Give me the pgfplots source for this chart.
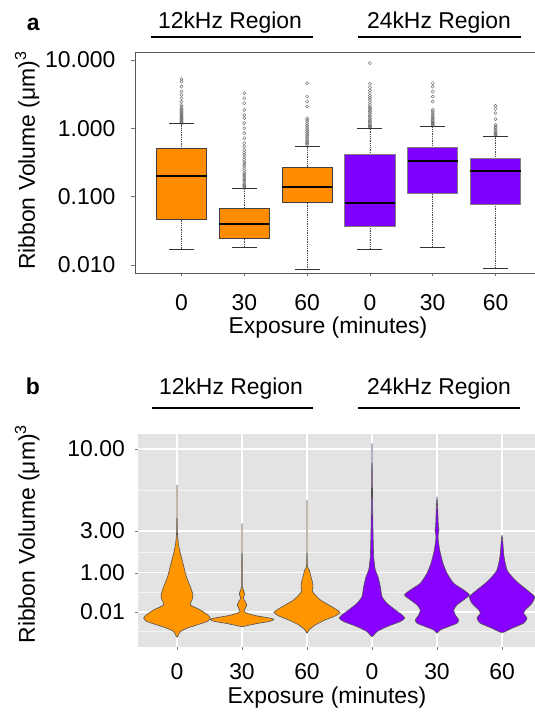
\documentclass[border=0pt]{standalone}
\usepackage{fontspec}
\setmainfont{Liberation Sans}
\usepackage{pgfplots}
\usepackage{pgfplotstable}
\pgfplotsset{compat=1.18}
\usepgfplotslibrary{statistics}
\usetikzlibrary{plotmarks}

\definecolor{boxorange}{HTML}{FF8C00}
\definecolor{boxpurple}{HTML}{8000FF}
\definecolor{vorange}{HTML}{FF9600}
\definecolor{vpurple}{HTML}{8800FF}
\definecolor{panelgrey}{HTML}{E3E3E3}

% violin outlines (closed): d = offset from the category, u = position on the y axis
\pgfplotstableread{
d u
0.000 2.534
0.005 1.748
0.021 1.516
0.051 1.341
0.092 1.167
0.144 0.933
0.205 0.759
0.246 0.614
0.231 0.527
0.205 0.440
0.359 0.352
0.472 0.265
0.513 0.207
0.462 0.149
0.308 0.091
0.154 0.033
0.051 -0.026
0.000 -0.124
-0.051 -0.026
-0.154 0.033
-0.308 0.091
-0.462 0.149
-0.513 0.207
-0.472 0.265
-0.359 0.352
-0.205 0.440
-0.231 0.527
-0.246 0.614
-0.205 0.759
-0.144 0.933
-0.092 1.167
-0.051 1.341
-0.021 1.516
-0.005 1.748
0.000 2.534
}\vA
\pgfplotstableread{
d u
0.000 1.865
0.005 0.993
0.005 0.759
0.021 0.701
0.041 0.631
0.021 0.556
0.051 0.498
0.072 0.440
0.051 0.382
0.031 0.323
0.103 0.283
0.231 0.248
0.385 0.219
0.487 0.190
0.436 0.155
0.256 0.120
0.103 0.085
0.000 0.061
-0.103 0.085
-0.256 0.120
-0.436 0.155
-0.487 0.190
-0.385 0.219
-0.231 0.248
-0.103 0.283
-0.031 0.323
-0.051 0.382
-0.072 0.440
-0.051 0.498
-0.021 0.556
-0.041 0.631
-0.021 0.701
-0.005 0.759
-0.005 0.993
0.000 1.865
}\vB
\pgfplotstableread{
d u
0.000 2.272
0.005 1.167
0.036 1.050
0.062 0.933
0.087 0.818
0.092 0.731
0.080 0.690
0.103 0.643
0.205 0.527
0.333 0.440
0.462 0.352
0.508 0.306
0.436 0.248
0.282 0.178
0.128 0.091
0.031 0.004
0.000 -0.054
-0.031 0.004
-0.128 0.091
-0.282 0.178
-0.436 0.248
-0.508 0.306
-0.462 0.352
-0.333 0.440
-0.205 0.527
-0.103 0.643
-0.080 0.690
-0.092 0.731
-0.087 0.818
-0.062 0.933
-0.036 1.050
-0.005 1.167
0.000 2.272
}\vC
\pgfplotstableread{
d u
0.000 3.261
0.010 2.155
0.015 1.748
0.026 1.283
0.051 1.050
0.092 0.933
0.128 0.759
0.154 0.584
0.231 0.469
0.359 0.352
0.462 0.265
0.503 0.207
0.436 0.149
0.231 0.061
0.077 -0.026
0.000 -0.114
-0.077 -0.026
-0.231 0.061
-0.436 0.149
-0.503 0.207
-0.462 0.265
-0.359 0.352
-0.231 0.469
-0.154 0.584
-0.128 0.759
-0.092 0.933
-0.051 1.050
-0.026 1.283
-0.015 1.748
-0.010 2.155
0.000 3.261
}\vD
\pgfplotstableread{
d u
0.000 2.330
0.010 2.155
0.021 1.806
0.031 1.748
0.015 1.632
0.041 1.399
0.092 1.167
0.154 0.993
0.256 0.818
0.410 0.701
0.500 0.614
0.410 0.527
0.308 0.440
0.256 0.352
0.282 0.265
0.333 0.178
0.308 0.120
0.179 0.061
0.051 0.004
0.000 -0.054
-0.051 0.004
-0.179 0.061
-0.308 0.120
-0.333 0.178
-0.282 0.265
-0.256 0.352
-0.308 0.440
-0.410 0.527
-0.500 0.614
-0.410 0.701
-0.256 0.818
-0.154 0.993
-0.092 1.167
-0.041 1.399
-0.015 1.632
-0.031 1.748
-0.021 1.806
-0.010 2.155
0.000 2.330
}\vE
\pgfplotstableread{
d u
0.000 1.661
0.010 1.574
0.031 1.283
0.077 1.050
0.154 0.933
0.256 0.818
0.385 0.701
0.500 0.584
0.462 0.469
0.359 0.352
0.333 0.294
0.385 0.207
0.333 0.120
0.154 0.033
0.000 -0.043
-0.154 0.033
-0.333 0.120
-0.385 0.207
-0.333 0.294
-0.359 0.352
-0.462 0.469
-0.500 0.584
-0.385 0.701
-0.256 0.818
-0.154 0.933
-0.077 1.050
-0.031 1.283
-0.010 1.574
0.000 1.661
}\vF

\pgfplotsset{
  rbox/.style={boxplot prepared={#1}, draw=black!75, line width=0.8bp,
    mark=o, mark size=1.6bp, mark options={draw=black!55, fill=none, line width=0.45bp}},
  violin/.style={fill=#1, draw=black!68, line width=0.6bp, smooth, tension=0.35},
}

\begin{document}
\fontsize{23}{27}\selectfont
\begin{tikzpicture}
\useasboundingbox (0,0) rectangle (535bp,712bp);

% ---------- panel a ----------
\node[anchor=base west, font=\bfseries] at (19bp,681bp) {a};
\node[anchor=base] at (230bp,683bp) {12kHz Region};
\node[anchor=base] at (439bp,683bp) {24kHz Region};
\draw[line width=1.6bp] (151bp,675bp) -- (313bp,675bp);
\draw[line width=1.6bp] (358bp,675bp) -- (521bp,675bp);

\begin{axis}[
  at={(135bp,439bp)}, anchor=south west,
  scale only axis, width=407bp, height=221bp,
  ymode=log, ymin=0.0076, ymax=13.1,
  xmin=0.26, xmax=6.74,
  xtick={1,2,3,4,5,6}, xticklabels={0,30,60,0,30,60},
  ytick={0.01,0.1,1,10}, yticklabels={0.010,0.100,1.000,10.000},
  yminorticks=false,
  xtick pos=left, ytick pos=left,
  tick align=outside, major tick length=3.5bp,
  tick style={black!55, line width=0.6bp},
  axis line style={black!65, line width=0.9bp},
  tick label style={font=\fontsize{23}{27}\selectfont},
  xticklabel style={anchor=base, yshift=-34bp},
  yticklabel style={anchor=east, inner sep=0pt, xshift=-16bp},
  xlabel={Exposure (minutes)},
  xlabel style={at={([yshift=-61bp]axis description cs:0.474,0)}, anchor=base},
  ylabel={Ribbon Volume (μm)\textsuperscript{3}},
  ylabel style={at={([xshift=-100bp]axis description cs:0,0.509)}, rotate=0, anchor=base},
  boxplot/draw direction=y,
  boxplot/box extend=0.8,
  boxplot/whisker extend=0,
  boxplot/every median/.style={line width=1.8bp, draw=black},
  boxplot/every whisker/.style={black!70, densely dotted, line width=0.8bp},
]
\addplot[rbox={draw position=1, lower whisker=0.017, lower quartile=0.046, median=0.20, upper quartile=0.50, upper whisker=1.16}, fill=boxorange]
  table[row sep=\\, y index=0] {1.19\\1.22\\1.26\\1.30\\1.34\\1.38\\1.42\\1.47\\1.52\\1.58\\1.64\\1.70\\1.78\\1.86\\1.95\\2.05\\2.20\\2.46\\2.75\\3.08\\3.45\\4.08\\4.83\\5.28\\};
\addplot[rbox={draw position=2, lower whisker=0.018, lower quartile=0.024, median=0.040, upper quartile=0.068, upper whisker=0.13}, fill=boxorange]
  table[row sep=\\, y index=0] {0.135\\0.14\\0.145\\0.15\\0.16\\0.17\\0.18\\0.19\\0.20\\0.21\\0.22\\0.24\\0.26\\0.28\\0.30\\0.32\\0.35\\0.38\\0.41\\0.44\\0.48\\0.54\\0.605\\0.716\\0.85\\1.0\\1.19\\1.41\\1.57\\1.86\\2.33\\2.75\\3.27\\};
\addplot[rbox={draw position=3, lower whisker=0.0087, lower quartile=0.081, median=0.139, upper quartile=0.27, upper whisker=0.55}, fill=boxorange]
  table[row sep=\\, y index=0] {0.57\\0.60\\0.63\\0.66\\0.70\\0.74\\0.78\\0.82\\0.87\\0.92\\0.98\\1.04\\1.10\\1.17\\1.25\\1.33\\1.41\\2.08\\2.46\\2.91\\4.57\\};
\addplot[rbox={draw position=4, lower whisker=0.017, lower quartile=0.037, median=0.081, upper quartile=0.41, upper whisker=0.98}, fill=boxpurple, draw=black!50]
  table[row sep=\\, y index=0] {1.02\\1.06\\1.10\\1.15\\1.20\\1.26\\1.32\\1.40\\1.48\\1.56\\1.65\\1.75\\1.85\\1.95\\2.05\\2.20\\2.40\\2.60\\2.80\\3.00\\3.30\\3.60\\4.00\\4.50\\9.00\\};
\addplot[rbox={draw position=5, lower whisker=0.018, lower quartile=0.11, median=0.33, upper quartile=0.52, upper whisker=1.08}, fill=boxpurple, draw=black!50]
  table[row sep=\\, y index=0] {1.10\\1.14\\1.18\\1.22\\1.27\\1.32\\1.38\\1.44\\1.50\\1.58\\1.66\\1.76\\1.86\\2.46\\2.91\\3.45\\4.08\\4.57\\};
\addplot[rbox={draw position=6, lower whisker=0.009, lower quartile=0.078, median=0.24, upper quartile=0.36, upper whisker=0.75}, fill=boxpurple, draw=black!50]
  table[row sep=\\, y index=0] {0.78\\0.80\\0.83\\0.86\\0.90\\0.95\\1.00\\1.05\\1.12\\1.36\\1.66\\1.92\\2.13\\};
% whisker caps
\addplot[only marks, mark=-, mark size=12.5bp, mark options={draw=black!80, line width=0.9bp}]
  coordinates {(1,0.017) (1,1.16) (2,0.018) (2,0.13) (3,0.0087) (3,0.55)
               (4,0.017) (4,0.98) (5,0.018) (5,1.08) (6,0.009) (6,0.75)};
\end{axis}

% ---------- panel b ----------
\node[anchor=base west, font=\bfseries] at (18bp,317bp) {b};
\node[anchor=base] at (231bp,317bp) {12kHz Region};
\node[anchor=base] at (439bp,317bp) {24kHz Region};
\draw[line width=1.6bp] (152bp,304bp) -- (313bp,304bp);
\draw[line width=1.6bp] (358bp,304bp) -- (520bp,304bp);

\begin{axis}[
  at={(138bp,65bp)}, anchor=south west,
  scale only axis, width=403bp, height=213bp,
  xmin=0.4, xmax=6.6, ymin=-0.295, ymax=3.424,
  axis background/.style={fill=panelgrey},
  axis line style={draw=none},
  xtick={1,2,3,4,5,6}, xticklabels={0,30,60,0,30,60},
  ytick={0.316,1,1.732,3.162}, yticklabels={0.01,1.00,3.00,10.00},
  minor ytick={-0.026,0.658,1.366,2.447},
  grid=both,
  major grid style={white, line width=1.2bp},
  minor grid style={white!60!panelgrey, line width=0.7bp},
  xtick pos=left, ytick pos=left,
  tick align=outside, major tick length=3bp, minor tick length=0pt,
  tick style={black!50, line width=0.6bp},
  tick label style={font=\fontsize{23}{27}\selectfont},
  xticklabel style={anchor=base, yshift=-29bp},
  yticklabel style={anchor=east, inner sep=0pt, xshift=-10bp},
  xlabel={Exposure (minutes)},
  xlabel style={at={([yshift=-56bp]axis description cs:0.469,0)}, anchor=base},
  ylabel={Ribbon Volume (μm)\textsuperscript{3}},
  ylabel style={at={([xshift=-103bp]axis description cs:0,0.53)}, rotate=0, anchor=base},
]
\addplot[violin=vorange] table[x expr=1+\thisrow{d}, y=u] {\vA};
\addplot[violin=vorange] table[x expr=2+\thisrow{d}, y=u] {\vB};
\addplot[violin=vorange] table[x expr=3+\thisrow{d}, y=u] {\vC};
\addplot[violin=vpurple] table[x expr=4+\thisrow{d}, y=u] {\vD};
\addplot[violin=vpurple] table[x expr=5+\thisrow{d}, y=u] {\vE};
\addplot[violin=vpurple] table[x expr=6+\thisrow{d}, y=u] {\vF};
\end{axis}
\end{tikzpicture}
\end{document}
